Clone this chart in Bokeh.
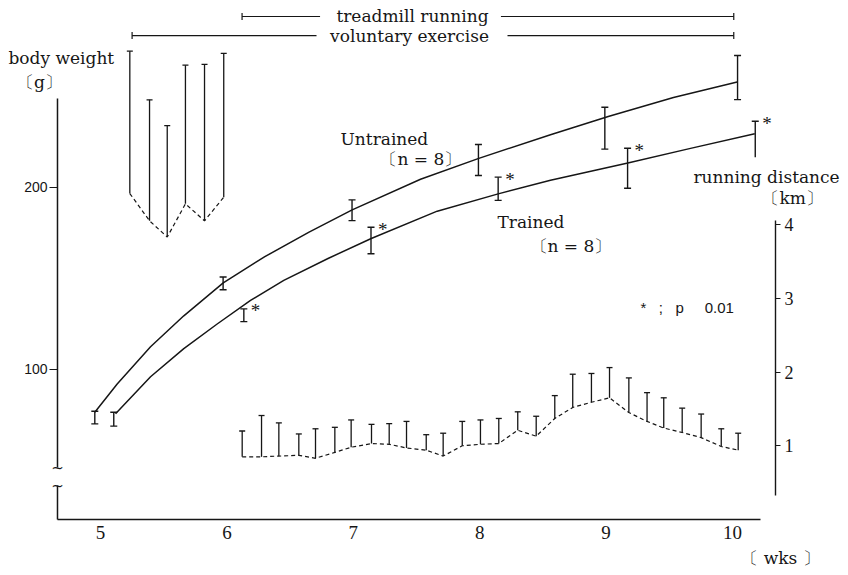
import math
from bokeh.plotting import figure
from bokeh.models import LinearAxis, Range1d, FixedTicker, Label
from bokeh.core.properties import value
from bokeh.embed import file_html
from bokeh.resources import INLINE

# ---------------- data ----------------
# body weight (g): mean and SD at each measurement (weeks of age)
untrained_wk = [4.955, 5.97, 6.99, 7.99, 8.99, 10.04]
untrained_g = [73.6, 147.3, 187.5, 215.1, 232.6, 260.4]
untrained_sd = [3.5, 3.5, 5.7, 8.5, 11.5, 12.1]

trained_wk = [5.105, 6.134, 7.14, 8.146, 9.17, 10.18]
trained_g = [72.7, 129.8, 170.9, 199.3, 210.6, 226.5]
trained_sd = [3.8, 3.5, 7.3, 6.4, 11.0, 9.9]
trained_sig = [False, True, True, True, True, True]
trained_lower_cap = [True, True, True, True, True, False]

# growth curves as drawn
untrained_curve_wk = [4.955, 5.132, 5.396, 5.659, 5.971, 6.30, 6.65, 6.991, 7.532, 7.993, 8.56, 9.017, 9.533, 10.037]
untrained_curve_g = [76.5, 92.0, 112.5, 129.5, 147.6, 162.0, 175.5, 187.7, 204.5, 216.0, 229.0, 239.0, 249.5, 258.0]
trained_curve_wk = [5.119, 5.396, 5.659, 5.923, 6.187, 6.45, 6.80, 7.142, 7.664, 8.146, 8.56, 9.172, 9.668, 10.176]
trained_curve_g = [75.7, 96.0, 111.5, 125.0, 138.0, 149.0, 161.0, 172.0, 187.0, 196.5, 204.0, 213.5, 221.5, 229.5]

# voluntary exercise running distance (km): mean and SD
vol_wk = [5.232, 5.388, 5.528, 5.672, 5.823, 5.975]
vol_km = [4.42, 4.05, 3.83, 4.28, 4.05, 4.37]
vol_sd = [1.93, 1.64, 1.51, 1.88, 2.12, 1.95]

# treadmill running distance (km) per day: mean and SD
run_wk = [6.121, 6.274, 6.411, 6.569, 6.701, 6.854, 6.983, 7.144, 7.284, 7.421,
          7.577, 7.711, 7.862, 8.006, 8.151, 8.301, 8.447, 8.594, 8.736, 8.884,
          9.027, 9.180, 9.324, 9.456, 9.602, 9.752, 9.911, 10.045]
run_km = [0.85, 0.85, 0.86, 0.87, 0.83, 0.91, 0.98, 1.03, 1.02, 0.97,
          0.94, 0.86, 1.00, 1.02, 1.03, 1.21, 1.13, 1.37, 1.52, 1.59,
          1.65, 1.45, 1.33, 1.24, 1.18, 1.11, 0.99, 0.94]
run_sd = [0.35, 0.56, 0.45, 0.29, 0.40, 0.34, 0.37, 0.26, 0.28, 0.36,
          0.21, 0.31, 0.33, 0.33, 0.34, 0.25, 0.27, 0.31, 0.45, 0.39,
          0.41, 0.47, 0.39, 0.41, 0.33, 0.32, 0.24, 0.23]

# exercise periods (weeks)
treadmill_period = [6.12, 10.01]
voluntary_period = [5.25, 10.01]

weight_ticks = [100, 200]
distance_ticks = [1, 2, 3, 4]
week_ticks = [5, 6, 7, 8, 9, 10]

# ---------------- layout constants ----------------
INK = "#161616"
SERIF = "DejaVu Serif"
TICK_SERIF = "Liberation Serif"
SANS = "Liberation Sans"
NB = "\u00a0"
X_START, X_END = 4.2089, 10.9177
G_START, G_END = -13.187, 302.747
KM_START, KM_END = -0.7593, 7.0373
LEFT_AXIS_X = 4.6598
RIGHT_AXIS_X = 10.34
BOTTOM_AXIS_G = 17.58
AXIS_TOP_G = 248.9
BREAK_G = (36.26, 46.15)
TREAD_Y = 293.96
VOL_Y = 283.5
TREAD_GAP = (6.737, 8.168)
VOL_GAP = (6.709, 8.220)

p = figure(width=848, height=575, output_backend="svg", toolbar_location=None,
           x_range=Range1d(X_START, X_END), y_range=Range1d(G_START, G_END),
           min_border_left=0, min_border_right=0, min_border_top=0, min_border_bottom=0,
           outline_line_color=None, background_fill_color="white", border_fill_color="white")
p.grid.visible = False
p.extra_y_ranges = {"km": Range1d(KM_START, KM_END)}

# left (body weight) axis, drawn at its own place with a broken line
ya = p.yaxis[0]
ya.fixed_location = LEFT_AXIS_X
ya.ticker = FixedTicker(ticks=weight_ticks)
ya.axis_line_color = None
ya.major_tick_out = 8
ya.major_tick_in = 0
ya.minor_tick_out = 0
ya.minor_tick_in = 0
ya.major_tick_line_color = INK
ya.major_label_text_font = SANS
ya.major_label_text_font_size = "14px"
ya.major_label_text_color = INK
ya.major_label_standoff = 2

p.segment(x0=[LEFT_AXIS_X, LEFT_AXIS_X], y0=[BOTTOM_AXIS_G, BREAK_G[1]],
          x1=[LEFT_AXIS_X, LEFT_AXIS_X], y1=[BREAK_G[0], AXIS_TOP_G],
          line_color=INK, line_width=1.5)
p.text(x=[LEFT_AXIS_X, LEFT_AXIS_X], y=list(BREAK_G), text=["~", "~"],
       text_font=value("DejaVu Sans"), text_font_size="15px", text_color=INK,
       text_align="center", text_baseline="middle")

# bottom (weeks) axis
xa = p.xaxis[0]
xa.fixed_location = BOTTOM_AXIS_G
xa.ticker = FixedTicker(ticks=week_ticks)
xa.bounds = (LEFT_AXIS_X, 10.22)
xa.axis_line_color = INK
xa.axis_line_width = 1.6
xa.major_tick_out = 0
xa.major_tick_in = 0
xa.minor_tick_out = 0
xa.minor_tick_in = 0
xa.major_label_text_font = TICK_SERIF
xa.major_label_text_font_size = "19px"
xa.major_label_text_color = INK
xa.major_label_standoff = 6

# right (running distance) axis
ra = LinearAxis(y_range_name="km", fixed_location=RIGHT_AXIS_X,
                ticker=FixedTicker(ticks=distance_ticks), bounds=(0.325, 4.054))
ra.axis_line_color = INK
ra.axis_line_width = 1.4
ra.major_tick_out = 5
ra.major_tick_in = 0
ra.minor_tick_out = 0
ra.minor_tick_in = 0
ra.major_tick_line_color = INK
ra.major_label_text_font = TICK_SERIF
ra.major_label_text_font_size = "18px"
ra.major_label_text_color = INK
ra.major_label_standoff = 4
p.add_layout(ra, "right")

# ---------------- body weight ----------------
p.line(untrained_curve_wk, untrained_curve_g, line_color=INK, line_width=1.5)
p.line(trained_curve_wk, trained_curve_g, line_color=INK, line_width=1.5)

def weight_bars(wk, g, sd, lower_caps):
    lo = [m - s for m, s in zip(g, sd)]
    hi = [m + s for m, s in zip(g, sd)]
    p.segment(x0=wk, y0=lo, x1=wk, y1=hi, line_color=INK, line_width=1.4)
    p.scatter(x=wk, y=hi, marker="dash", size=7, line_color=INK, line_width=1.4)
    p.scatter(x=[w for w, c in zip(wk, lower_caps) if c],
              y=[v for v, c in zip(lo, lower_caps) if c],
              marker="dash", size=7, line_color=INK, line_width=1.4)
    return hi

weight_bars(untrained_wk, untrained_g, untrained_sd, [True] * len(untrained_wk))
t_hi = weight_bars(trained_wk, trained_g, trained_sd, trained_lower_cap)

p.text(x=[w for w, s in zip(trained_wk, trained_sig) if s],
       y=[h for h, s in zip(t_hi, trained_sig) if s],
       text=["*"] * sum(trained_sig), x_offset=7, y_offset=2,
       text_font=value(TICK_SERIF), text_font_size="19px", text_color=INK,
       text_align="left", text_baseline="middle")

# ---------------- running distances ----------------
def distance_bars(wk, km, sd, dash):
    hi = [m + s for m, s in zip(km, sd)]
    p.line(wk, km, y_range_name="km", line_color=INK, line_width=1.2, line_dash=dash)
    p.segment(x0=wk, y0=km, x1=wk, y1=hi, y_range_name="km", line_color=INK, line_width=1.3)
    p.scatter(x=wk, y=hi, y_range_name="km", marker="dash", size=6, line_color=INK, line_width=1.3)

distance_bars(vol_wk, vol_km, vol_sd, "4 3")
distance_bars(run_wk, run_km, run_sd, "4 3")

# ---------------- exercise periods ----------------
for (a, b), yv, (g0, g1) in ((treadmill_period, TREAD_Y, TREAD_GAP),
                             (voluntary_period, VOL_Y, VOL_GAP)):
    p.segment(x0=[a, g1], y0=[yv, yv], x1=[g0, b], y1=[yv, yv], line_color=INK, line_width=1.2)
    p.scatter(x=[a, b], y=[yv, yv], marker="dash", angle=math.pi / 2, size=7,
              line_color=INK, line_width=1.2)

p.text(x=[7.468, 7.445], y=[TREAD_Y, VOL_Y], text=["treadmill running", "voluntary exercise"],
       text_font=value(SERIF), text_font_size="17px", text_color=INK,
       text_align="center", text_baseline="middle")

# ---------------- texts ----------------
def label(x, y, text, size="17px", align="left", font=SERIF):
    p.add_layout(Label(x=x, y=y, text=text, text_font=font, text_font_size=size,
                       text_color=INK, text_align=align, text_baseline="middle"))

label(4.272, 270.9, "body weight")
label(4.517, 257.7, "〔g〕", align="center")
label(6.899, 226.9, "Untrained")
label(7.215, 215.9, "〔n = 8〕")
label(8.141, 180.8, "Trained")
label(8.402, 168.1, "〔n = 8〕")
label(9.691, 205.5, "running distance")
label(10.237, 194.5, "〔km〕")
label(9.272, 134.1, "*" + NB * 3 + ";" + NB * 3 + "p" + NB * 5 + "0.01", size="15px", font=SANS)
label(10.38, -3.3, "〔 wks 〕", align="center")

open("out.html", "w").write(file_html(p, INLINE))
